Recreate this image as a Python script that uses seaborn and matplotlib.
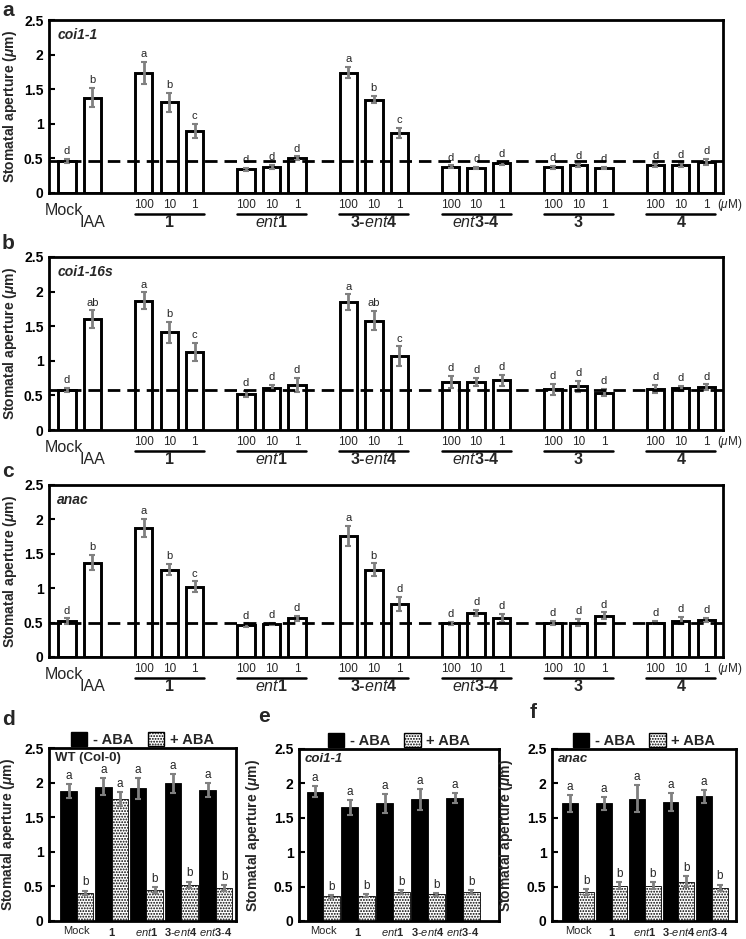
import numpy as np
import pandas as pd
import seaborn as sns
import matplotlib.pyplot as plt
import matplotlib.transforms as mtransforms
from matplotlib.patches import Patch

sns.set_theme(style='white')
plt.rcParams['font.family'] = ['Liberation Sans', 'DejaVu Sans']
plt.rcParams['mathtext.fontset'] = 'custom'
plt.rcParams['mathtext.rm'] = 'Liberation Sans'
plt.rcParams['mathtext.it'] = 'Liberation Sans:italic'
plt.rcParams['mathtext.bf'] = 'Liberation Sans:bold'
plt.rcParams['mathtext.sf'] = 'Liberation Sans:bold:italic'
plt.rcParams['hatch.linewidth'] = 0.9

# panels a-c : Mock, IAA, then compound x (100, 10, 1 uM)
treat_groups = ['1', 'ent1', '3-ent4', 'ent3-4', '3', '4']
group_texts = ['1', r'$\mathit{ent}$1', r'3-$\mathit{ent}$4', r'$\mathit{ent}$3-4', '3', '4']
concs = ['100', '10', '1']

coi11_val = [0.46, 1.38, 1.74, 1.31, 0.90, 0.34, 0.38, 0.50, 1.74, 1.35, 0.87,
             0.38, 0.36, 0.43, 0.37, 0.40, 0.36, 0.40, 0.40, 0.45]
coi11_err = [0.03, 0.14, 0.16, 0.14, 0.10, 0.02, 0.03, 0.03, 0.08, 0.05, 0.07,
             0.02, 0.02, 0.02, 0.02, 0.02, 0.02, 0.02, 0.03, 0.04]
coi11_let = ['d', 'b', 'a', 'b', 'c', 'd', 'd', 'd', 'a', 'b', 'c',
             'd', 'd', 'd', 'd', 'd', 'd', 'd', 'd', 'd']
coi11_base = 0.46

coi116_val = [0.58, 1.60, 1.87, 1.41, 1.13, 0.52, 0.61, 0.65, 1.85, 1.58, 1.07,
              0.69, 0.69, 0.72, 0.59, 0.63, 0.54, 0.59, 0.60, 0.62]
coi116_err = [0.03, 0.13, 0.12, 0.15, 0.13, 0.05, 0.04, 0.10, 0.11, 0.14, 0.14,
              0.09, 0.06, 0.08, 0.08, 0.08, 0.05, 0.06, 0.04, 0.04]
coi116_let = ['d', 'ab', 'a', 'b', 'c', 'd', 'd', 'd', 'a', 'ab', 'c',
              'd', 'd', 'd', 'd', 'd', 'd', 'd', 'd', 'd']
coi116_base = 0.58

anac_val = [0.52, 1.37, 1.88, 1.27, 1.02, 0.46, 0.48, 0.56, 1.76, 1.27, 0.77,
            0.49, 0.64, 0.57, 0.50, 0.50, 0.60, 0.50, 0.53, 0.54]
anac_err = [0.04, 0.11, 0.13, 0.08, 0.08, 0.03, 0.02, 0.04, 0.15, 0.09, 0.10,
            0.02, 0.05, 0.06, 0.03, 0.05, 0.05, 0.02, 0.05, 0.03]
anac_let = ['d', 'b', 'a', 'b', 'c', 'd', 'd', 'd', 'a', 'b', 'd',
            'd', 'd', 'd', 'd', 'd', 'd', 'd', 'd', 'd']
anac_base = 0.50

# panels d-f : -ABA / +ABA
aba_cats = ['Mock', '1', 'ent1', '3-ent4', 'ent3-4']
aba_texts = ['Mock', r'$\mathbf{1}$', r'$\mathit{ent}\mathbf{1}$',
             r'$\mathbf{3}$-$\mathit{ent}\mathbf{4}$', r'$\mathit{ent}\mathbf{3}$-$\mathbf{4}$']
aba_levels = ['- ABA', '+ ABA']

wt_minus = [1.88, 1.94, 1.92, 1.99, 1.89]
wt_minus_err = [0.10, 0.12, 0.15, 0.14, 0.10]
wt_plus = [0.41, 1.76, 0.45, 0.52, 0.48]
wt_plus_err = [0.03, 0.10, 0.04, 0.05, 0.04]
wt_plus_let = ['b', 'a', 'b', 'b', 'b']

coi_minus = [1.88, 1.65, 1.71, 1.77, 1.79]
coi_minus_err = [0.08, 0.11, 0.14, 0.15, 0.07]
coi_plus = [0.36, 0.37, 0.42, 0.39, 0.42]
coi_plus_err = [0.02, 0.02, 0.03, 0.02, 0.03]
coi_plus_let = ['b', 'b', 'b', 'b', 'b']

anc_minus = [1.71, 1.71, 1.78, 1.73, 1.81]
anc_minus_err = [0.12, 0.09, 0.19, 0.13, 0.10]
anc_plus = [0.42, 0.51, 0.51, 0.57, 0.48]
anc_plus_err = [0.04, 0.05, 0.05, 0.08, 0.05]
anc_plus_let = ['b', 'b', 'b', 'b', 'b']

W, H = 746, 939
fig = plt.figure(figsize=(W / 100, H / 100), dpi=100)


def rect(l, r, t, b):
    return [l / W, 1 - b / H, (r - l) / W, (b - t) / H]


# slot positions: Mock, IAA, gap, 3 bars per compound with one empty slot between
pos = [0, 1] + [3 + 4 * g + k for g in range(len(treat_groups)) for k in range(len(concs))]
yt = [0, 0.5, 1, 1.5, 2, 2.5]
ytl = ['0', '0.5', '1', '1.5', '2', '2.5']
ylab = r'Stomatal aperture ($\mathsf{\mu}$m)'


def style_axes(ax):
    for s in ax.spines.values():
        s.set_linewidth(2)
        s.set_color('black')
    ax.set_ylim(0, 2.5)
    ax.set_yticks(yt)
    ax.set_yticklabels(ytl, fontsize=10, fontweight='bold')
    ax.tick_params(axis='y', left=True, direction='in', length=4, width=1.5, pad=4, colors='black')


def top_panel(rc, vals, errs, lets, base, strain):
    ax = fig.add_axes(rc)
    df = pd.DataFrame({'pos': pos, 'val': vals})
    sns.barplot(data=df, x='pos', y='val', native_scale=True, color='white', saturation=1,
                edgecolor='black', linewidth=2.1, width=0.68, errorbar=None, ax=ax)
    ax.errorbar(pos, vals, yerr=errs, fmt='none', ecolor='#808080', elinewidth=2,
                capsize=2.5, capthick=1.5, zorder=3)
    ax.axhline(base, color='black', ls=(0, (4.5, 2.5)), lw=2, zorder=4)
    for x, v, e, t in zip(pos, vals, errs, lets):
        ax.text(x, v + e + 0.04, t, ha='center', va='bottom', fontsize=8)
    style_axes(ax)
    ax.set_xlim(-0.7, 25.65)
    ax.set_xticks([])
    ax.set_xlabel('')
    ax.set_ylabel(ylab, fontsize=10, fontweight='bold')
    ax.yaxis.set_label_coords(-0.045, 0.5)
    ax.text(0.012, 0.915, strain, transform=ax.transAxes, fontsize=10,
            fontweight='bold', fontstyle='italic', va='center')
    tr = mtransforms.blended_transform_factory(ax.transData, ax.transAxes)
    ax.text(-0.85, -0.1, 'Mock', transform=tr, ha='left', va='center', fontsize=11.5)
    ax.text(1, -0.17, 'IAA', transform=tr, ha='center', va='center', fontsize=11.5)
    for g, lab in enumerate(group_texts):
        xs = pos[2 + 3 * g: 5 + 3 * g]
        for x, c in zip(xs, concs):
            ax.text(x, -0.07, c, transform=tr, ha='center', va='center', fontsize=8.5)
        ax.plot([xs[0] - 0.35, xs[-1] + 0.35], [-0.124, -0.124], transform=tr,
                color='black', lw=1.8, clip_on=False)
        ax.text(np.mean(xs), -0.17, lab, transform=tr, ha='center', va='center',
                fontsize=11.5, fontweight='bold')
    ax.text(pos[-1] + 0.4, -0.07, r'($\mathit{\mu}$M)', transform=tr, ha='left',
            va='center', fontsize=8.5)
    return ax


top_panel(rect(49, 723, 20, 193), coi11_val, coi11_err, coi11_let, coi11_base, 'coi1-1')
top_panel(rect(49, 723, 257, 430), coi116_val, coi116_err, coi116_let, coi116_base, 'coi1-16s')
top_panel(rect(49, 723, 485, 657), anac_val, anac_err, anac_let, anac_base, 'anac')


def aba_panel(rc, xlim, minus, minus_err, plus, plus_err, plus_let, strain, italic, ylx):
    ax = fig.add_axes(rc)
    df = pd.DataFrame({
        'cat': aba_cats * 2,
        'aba': [aba_levels[0]] * len(aba_cats) + [aba_levels[1]] * len(aba_cats),
        'val': minus + plus,
    })
    sns.barplot(data=df, x='cat', y='val', hue='aba', order=aba_cats, hue_order=aba_levels,
                palette=['black', 'white'], saturation=1, width=0.95, errorbar=None,
                edgecolor='black', linewidth=0.6, legend=False, ax=ax)
    for bar in ax.containers[1]:
        bar.set_hatch('......')
    series = [(minus, minus_err, ['a'] * len(minus)), (plus, plus_err, plus_let)]
    for cont, (v, e, lets) in zip(ax.containers, series):
        xs = [b.get_x() + b.get_width() / 2 for b in cont]
        ax.errorbar(xs, v, yerr=e, fmt='none', ecolor='#808080', elinewidth=2,
                    capsize=2.5, capthick=1.5, zorder=3)
        for x, vv, ee, t in zip(xs, v, e, lets):
            ax.text(x, vv + ee + 0.03, t, ha='center', va='bottom', fontsize=8.5)
    style_axes(ax)
    ax.set_xlim(*xlim)
    ax.set_xticks(range(len(aba_cats)))
    ax.set_xticklabels(aba_texts, fontsize=8)
    ax.tick_params(axis='x', bottom=False, pad=-2.5)
    ax.set_xlabel('')
    ax.set_ylabel(ylab, fontsize=10, fontweight='bold')
    ax.yaxis.set_label_coords(ylx, 0.5)
    ax.text(0.03, 0.94, strain, transform=ax.transAxes, fontsize=9.5, fontweight='bold',
            fontstyle='italic' if italic else 'normal', va='center')
    handles = [Patch(facecolor='black', edgecolor='black', label=aba_levels[0]),
               Patch(facecolor='white', edgecolor='black', hatch='......', label=aba_levels[1])]
    ax.legend(handles=handles, loc='lower center', bbox_to_anchor=(0.5, 1.0), ncol=2,
              frameon=False, prop={'weight': 'bold', 'size': 10.5}, handlelength=1.1,
              handleheight=1.1, handletextpad=0.4, columnspacing=1.0, borderpad=0.1,
              borderaxespad=0.0)
    return ax


aba_panel(rect(49, 236, 748, 921), (-0.8, 4.58), wt_minus, wt_minus_err, wt_plus, wt_plus_err,
          wt_plus_let, 'WT (Col-0)', False, -0.171)
aba_panel(rect(299, 499, 749, 921), (-0.69, 5.03), coi_minus, coi_minus_err, coi_plus, coi_plus_err,
          coi_plus_let, 'coi1-1', True, -0.185)
aba_panel(rect(552, 736, 749, 921), (-0.78, 4.72), anc_minus, anc_minus_err, anc_plus, anc_plus_err,
          anc_plus_let, 'anac', True, -0.2)

for lab, x, y in [('a', 2, 1), ('b', 2, 234), ('c', 2, 462), ('d', 2, 710), ('e', 258, 707), ('f', 530, 703)]:
    fig.text(x / W, 1 - y / H, lab, fontsize=15, fontweight='bold', ha='left', va='top')

fig.savefig('out.png', dpi=100)
